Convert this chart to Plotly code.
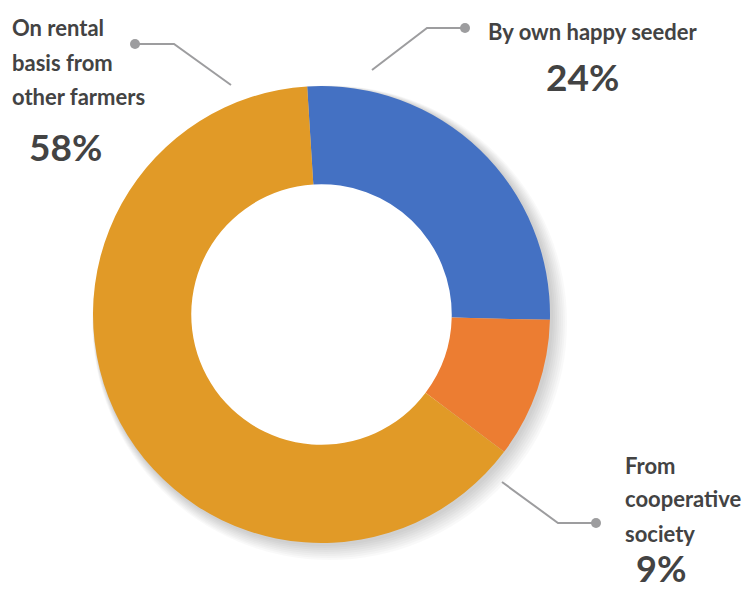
import plotly.graph_objects as go

# Sources of happy seeder used by farmers (share, %)
categories = ["By own happy seeder", "From cooperative society", "On rental basis from other farmers"]
shares = [24, 9, 58]
colors = ["#4471C3", "#EC7D32", "#E19A27"]

W, H = 745, 592
CX, CY = 321.5, 314.5      # donut centre in px
R = 228.5                  # outer radius in px
HOLE = 0.57

FONT = "Lato, Roboto, sans-serif"
TEXT = "#434343"
LINE = "#9D9D9F"
SIZE = 22
BIG = 37


def px(x):
    return x / W


def py(y):
    return 1 - y / H


def domain(cx, cy, r):
    return dict(x=[px(cx - r), px(cx + r)], y=[py(cy + r), py(cy - r)])


fig = go.Figure()

# soft drop shadow to the lower right, built from faint offset rings
for i in range(1, 9):
    off = 1.0 + i * 0.9
    grow = i * 1.1
    fig.add_trace(go.Pie(
        values=[1], labels=["shadow"], hole=0.60, sort=False,
        domain=domain(CX + off, CY + off, R + grow),
        marker=dict(colors=["rgba(0,0,0,0.024)"], line=dict(width=0)),
        textinfo="none", hoverinfo="skip", showlegend=False,
    ))

fig.add_trace(go.Pie(
    labels=categories, values=shares, hole=HOLE, sort=False,
    direction="clockwise", rotation=-3.6,
    domain=domain(CX, CY, R),
    marker=dict(colors=colors, line=dict(width=0)),
    textinfo="none", showlegend=False,
))

annotations = []


def label(text, x, y, size, anchor="left"):
    annotations.append(dict(
        text=text, x=px(x), y=py(y), xref="paper", yref="paper",
        xanchor=anchor, yanchor="middle", showarrow=False,
        font=dict(family=FONT, size=size, color=TEXT, weight="bold"),
    ))


def pct(v):
    return f"{v}%"


# On rental basis from other farmers
label("On rental", 10, 28, SIZE)
label("basis from", 10, 63, SIZE)
label("other farmers", 10, 96, SIZE)
label(pct(shares[2]), 65, 146, BIG, "center")

# By own happy seeder
label("By own happy seeder", 486, 31, SIZE)
label(pct(shares[0]), 582, 76, BIG, "center")

# From cooperative society
label("From", 623, 465, SIZE)
label("cooperative", 623, 498, SIZE)
label("society", 623, 533, SIZE)
label(pct(shares[1]), 661, 568, 36, "center")

shapes = []


def leader(points, dot):
    path = "M " + " L ".join(f"{px(x)},{py(y)}" for x, y in points)
    shapes.append(dict(type="path", path=path, xref="paper", yref="paper",
                       line=dict(color=LINE, width=2)))
    r = 5
    shapes.append(dict(type="circle", xref="paper", yref="paper",
                       x0=px(dot[0] - r), x1=px(dot[0] + r),
                       y0=py(dot[1] + r), y1=py(dot[1] - r),
                       fillcolor=LINE, line=dict(width=0)))


leader([(135, 44), (174, 44), (231, 85)], (135, 44))
leader([(465, 28), (427, 28), (372, 70)], (465, 28))
leader([(596, 523), (558, 523), (502, 482)], (596, 523))

fig.update_layout(
    width=W, height=H,
    margin=dict(l=0, r=0, t=0, b=0),
    paper_bgcolor="white", plot_bgcolor="white",
    annotations=annotations, shapes=shapes,
    showlegend=False,
)

fig.write_html("out.html")
